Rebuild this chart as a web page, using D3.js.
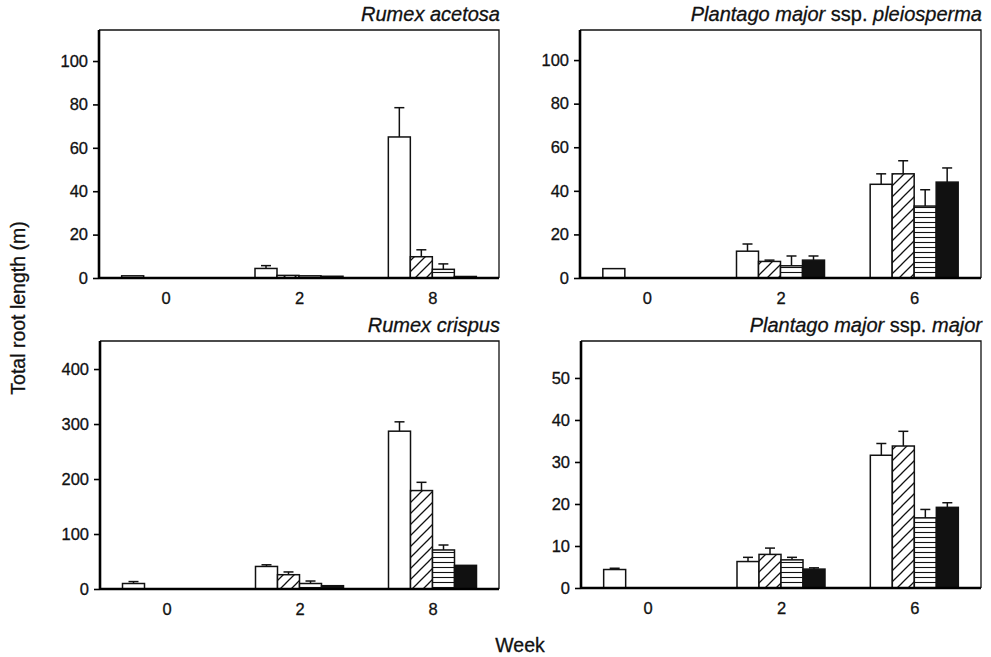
<!DOCTYPE html>
<html lang="en">
<head>
    <meta charset="UTF-8">
    <title>Total root length</title>
    <script type="text/javascript" src="https://cdn.jsdelivr.net/npm/d3@7/dist/d3.min.js"></script>
    <style>
        body { margin: 0; background: #fff; }
        text { font-family: "Liberation Sans", Arial, Helvetica, sans-serif; fill: #111; stroke: #111; stroke-width: 0.3; }
    </style>
</head>
<body>
<script type="text/javascript">
    const width = 991, height = 657;

    // weeks on the x axis
    const weeksRumex = ['0', '2', '8'];
    const weeksPlantago = ['0', '2', '6'];
    // four treatments: open, diagonal hatch, horizontal hatch, solid
    const treatments = ['open', 'diag', 'horiz', 'solid'];

    // means (m), one row per week; week 0 has only the first treatment
    const acetosaMean = [[1.0, null, null, null], [4.4, 1.2, 1.0, 0.8], [65, 9.8, 4.0, 0.7]];
    const acetosaUpper = [[null, null, null, null], [5.7, null, null, null], [78.5, 13, 6.5, null]];

    const pleiospermaMean = [[4.3, null, null, null], [12.3, 7.6, 5.6, 8.2], [43, 47.8, 33, 44]];
    const pleiospermaUpper = [[null, null, null, null], [15.6, 8.2, 10.1, 10.1], [47.8, 53.8, 40.5, 50.5]];

    const crispusMean = [[10, null, null, null], [41, 26, 10, 6], [287, 179, 71, 43]];
    const crispusUpper = [[13.5, null, null, null], [44, 31, 14.5, null], [304, 194, 80, null]];

    const majorMean = [[4.4, null, null, null], [6.3, 8.0, 6.7, 4.5], [31.6, 33.8, 16.7, 19.2]];
    const majorUpper = [[4.7, null, null, null], [7.3, 9.5, 7.3, 4.8], [34.4, 37.3, 18.7, 20.3]];

    const ticksTop = [0, 20, 40, 60, 80, 100];
    const ticksCrispus = [0, 100, 200, 300, 400];
    const ticksMajor = [0, 10, 20, 30, 40, 50];

    const panels = [
        {title: [['Rumex acetosa', 'italic']], weeks: weeksRumex, mean: acetosaMean, upper: acetosaUpper,
            ticks: ticksTop, yMax: 114.3, left: 99, right: 499, top: 30, bottom: 278},
        {title: [['Plantago major', 'italic'], [' ssp. ', 'normal'], ['pleiosperma', 'italic']], weeks: weeksPlantago,
            mean: pleiospermaMean, upper: pleiospermaUpper, ticks: ticksTop, yMax: 113.8, left: 580, right: 981, top: 30, bottom: 278},
        {title: [['Rumex crispus', 'italic']], weeks: weeksRumex, mean: crispusMean, upper: crispusUpper,
            ticks: ticksCrispus, yMax: 451, left: 100, right: 499, top: 341, bottom: 589},
        {title: [['Plantago major', 'italic'], [' ssp. ', 'normal'], ['major', 'italic']], weeks: weeksPlantago,
            mean: majorMean, upper: majorUpper, ticks: ticksMajor, yMax: 58.8, left: 581, right: 981, top: 341, bottom: 588}
    ];

    const svg = d3.select('body').append('svg')
        .attr('width', width)
        .attr('height', height);

    // hatch patterns
    const defs = svg.append('defs');
    const diag = defs.append('pattern')
        .attr('id', 'diag')
        .attr('patternUnits', 'userSpaceOnUse')
        .attr('width', 11).attr('height', 11);
    diag.append('rect').attr('width', 11).attr('height', 11).attr('fill', '#fff');
    diag.append('path')
        .attr('d', 'M-1,12 L12,-1 M-3,3 L3,-3 M8,14 L14,8')
        .attr('stroke', '#111').attr('stroke-width', 1.3);
    const horiz = defs.append('pattern')
        .attr('id', 'horiz')
        .attr('patternUnits', 'userSpaceOnUse')
        .attr('width', 10).attr('height', 5);
    horiz.append('rect').attr('width', 10).attr('height', 5).attr('fill', '#fff');
    horiz.append('path')
        .attr('d', 'M0,2.5 L10,2.5')
        .attr('stroke', '#111').attr('stroke-width', 1.1);

    const fills = d3.scaleOrdinal()
        .domain(treatments)
        .range(['#fff', 'url(#diag)', 'url(#horiz)', '#111']);

    panels.forEach(p => {
        const x = d3.scalePoint()
            .domain(p.weeks)
            .range([p.left, p.right])
            .padding(0.5);
        const xs = d3.scaleBand()
            .domain(treatments)
            .range([-44, 44]);
        const y = d3.scaleLinear()
            .domain([0, p.yMax])
            .range([p.bottom, p.top]);

        const g = svg.append('g');

        // frame (thin top and right)
        g.append('path')
            .attr('d', `M${p.left},${p.top} H${p.right} V${p.bottom}`)
            .attr('fill', 'none')
            .attr('stroke', '#111')
            .attr('stroke-width', 1.3);

        const rows = [];
        p.weeks.forEach((w, i) => {
            treatments.forEach((t, j) => {
                if (p.mean[i][j] != null) rows.push({week: w, t: t, v: p.mean[i][j], up: p.upper[i][j]});
            });
        });

        // error bars first so bars overlap their base
        const err = g.append('g')
            .attr('stroke', '#111')
            .attr('stroke-width', 1.5)
            .selectAll('g')
            .data(rows.filter(d => d.up != null))
            .enter().append('g')
            .attr('transform', d => `translate(${x(d.week) + xs(d.t) + xs.bandwidth() / 2},0)`);
        err.append('line')
            .attr('y1', d => y(d.v))
            .attr('y2', d => y(d.up));
        err.append('line')
            .attr('x1', -5).attr('x2', 5)
            .attr('y1', d => y(d.up))
            .attr('y2', d => y(d.up));

        g.append('g')
            .selectAll('rect')
            .data(rows)
            .enter().append('rect')
            .attr('x', d => x(d.week) + xs(d.t))
            .attr('y', d => y(d.v))
            .attr('width', xs.bandwidth())
            .attr('height', d => y(0) - y(d.v))
            .attr('fill', d => fills(d.t))
            .attr('stroke', '#111')
            .attr('stroke-width', 1.5);

        // axes
        const yAxis = g.append('g')
            .attr('transform', `translate(${p.left},0)`)
            .call(d3.axisLeft(y).tickValues(p.ticks).tickSize(6).tickPadding(5));
        yAxis.select('.domain')
            .attr('d', `M0,${p.top}V${p.bottom}`)
            .attr('stroke-width', 2.6);
        yAxis.selectAll('.tick line').attr('stroke-width', 1.6);
        yAxis.selectAll('text').attr('font-size', 16.5).attr('fill', '#111');

        const xAxis = g.append('g')
            .attr('transform', `translate(0,${p.bottom})`)
            .call(d3.axisBottom(x).tickSize(0).tickPadding(14));
        xAxis.select('.domain')
            .attr('d', `M${p.left},0H${p.right}`)
            .attr('stroke-width', 2.6);
        xAxis.selectAll('text').attr('font-size', 16.5).attr('fill', '#111');

        // panel title, right aligned above frame
        const title = g.append('text')
            .attr('x', p.right + 1)
            .attr('y', p.top - 9)
            .attr('text-anchor', 'end')
            .attr('font-size', 20);
        p.title.forEach(s => {
            title.append('tspan')
                .attr('font-style', s[1])
                .style('white-space', 'pre')
                .text(s[0]);
        });
    });

    svg.append('text')
        .attr('transform', 'translate(25,308) rotate(-90)')
        .attr('text-anchor', 'middle')
        .attr('font-size', 19.5)
        .text('Total root length (m)');

    svg.append('text')
        .attr('x', 520)
        .attr('y', 652)
        .attr('text-anchor', 'middle')
        .attr('font-size', 19.5)
        .text('Week');
</script>
</body>
</html>
